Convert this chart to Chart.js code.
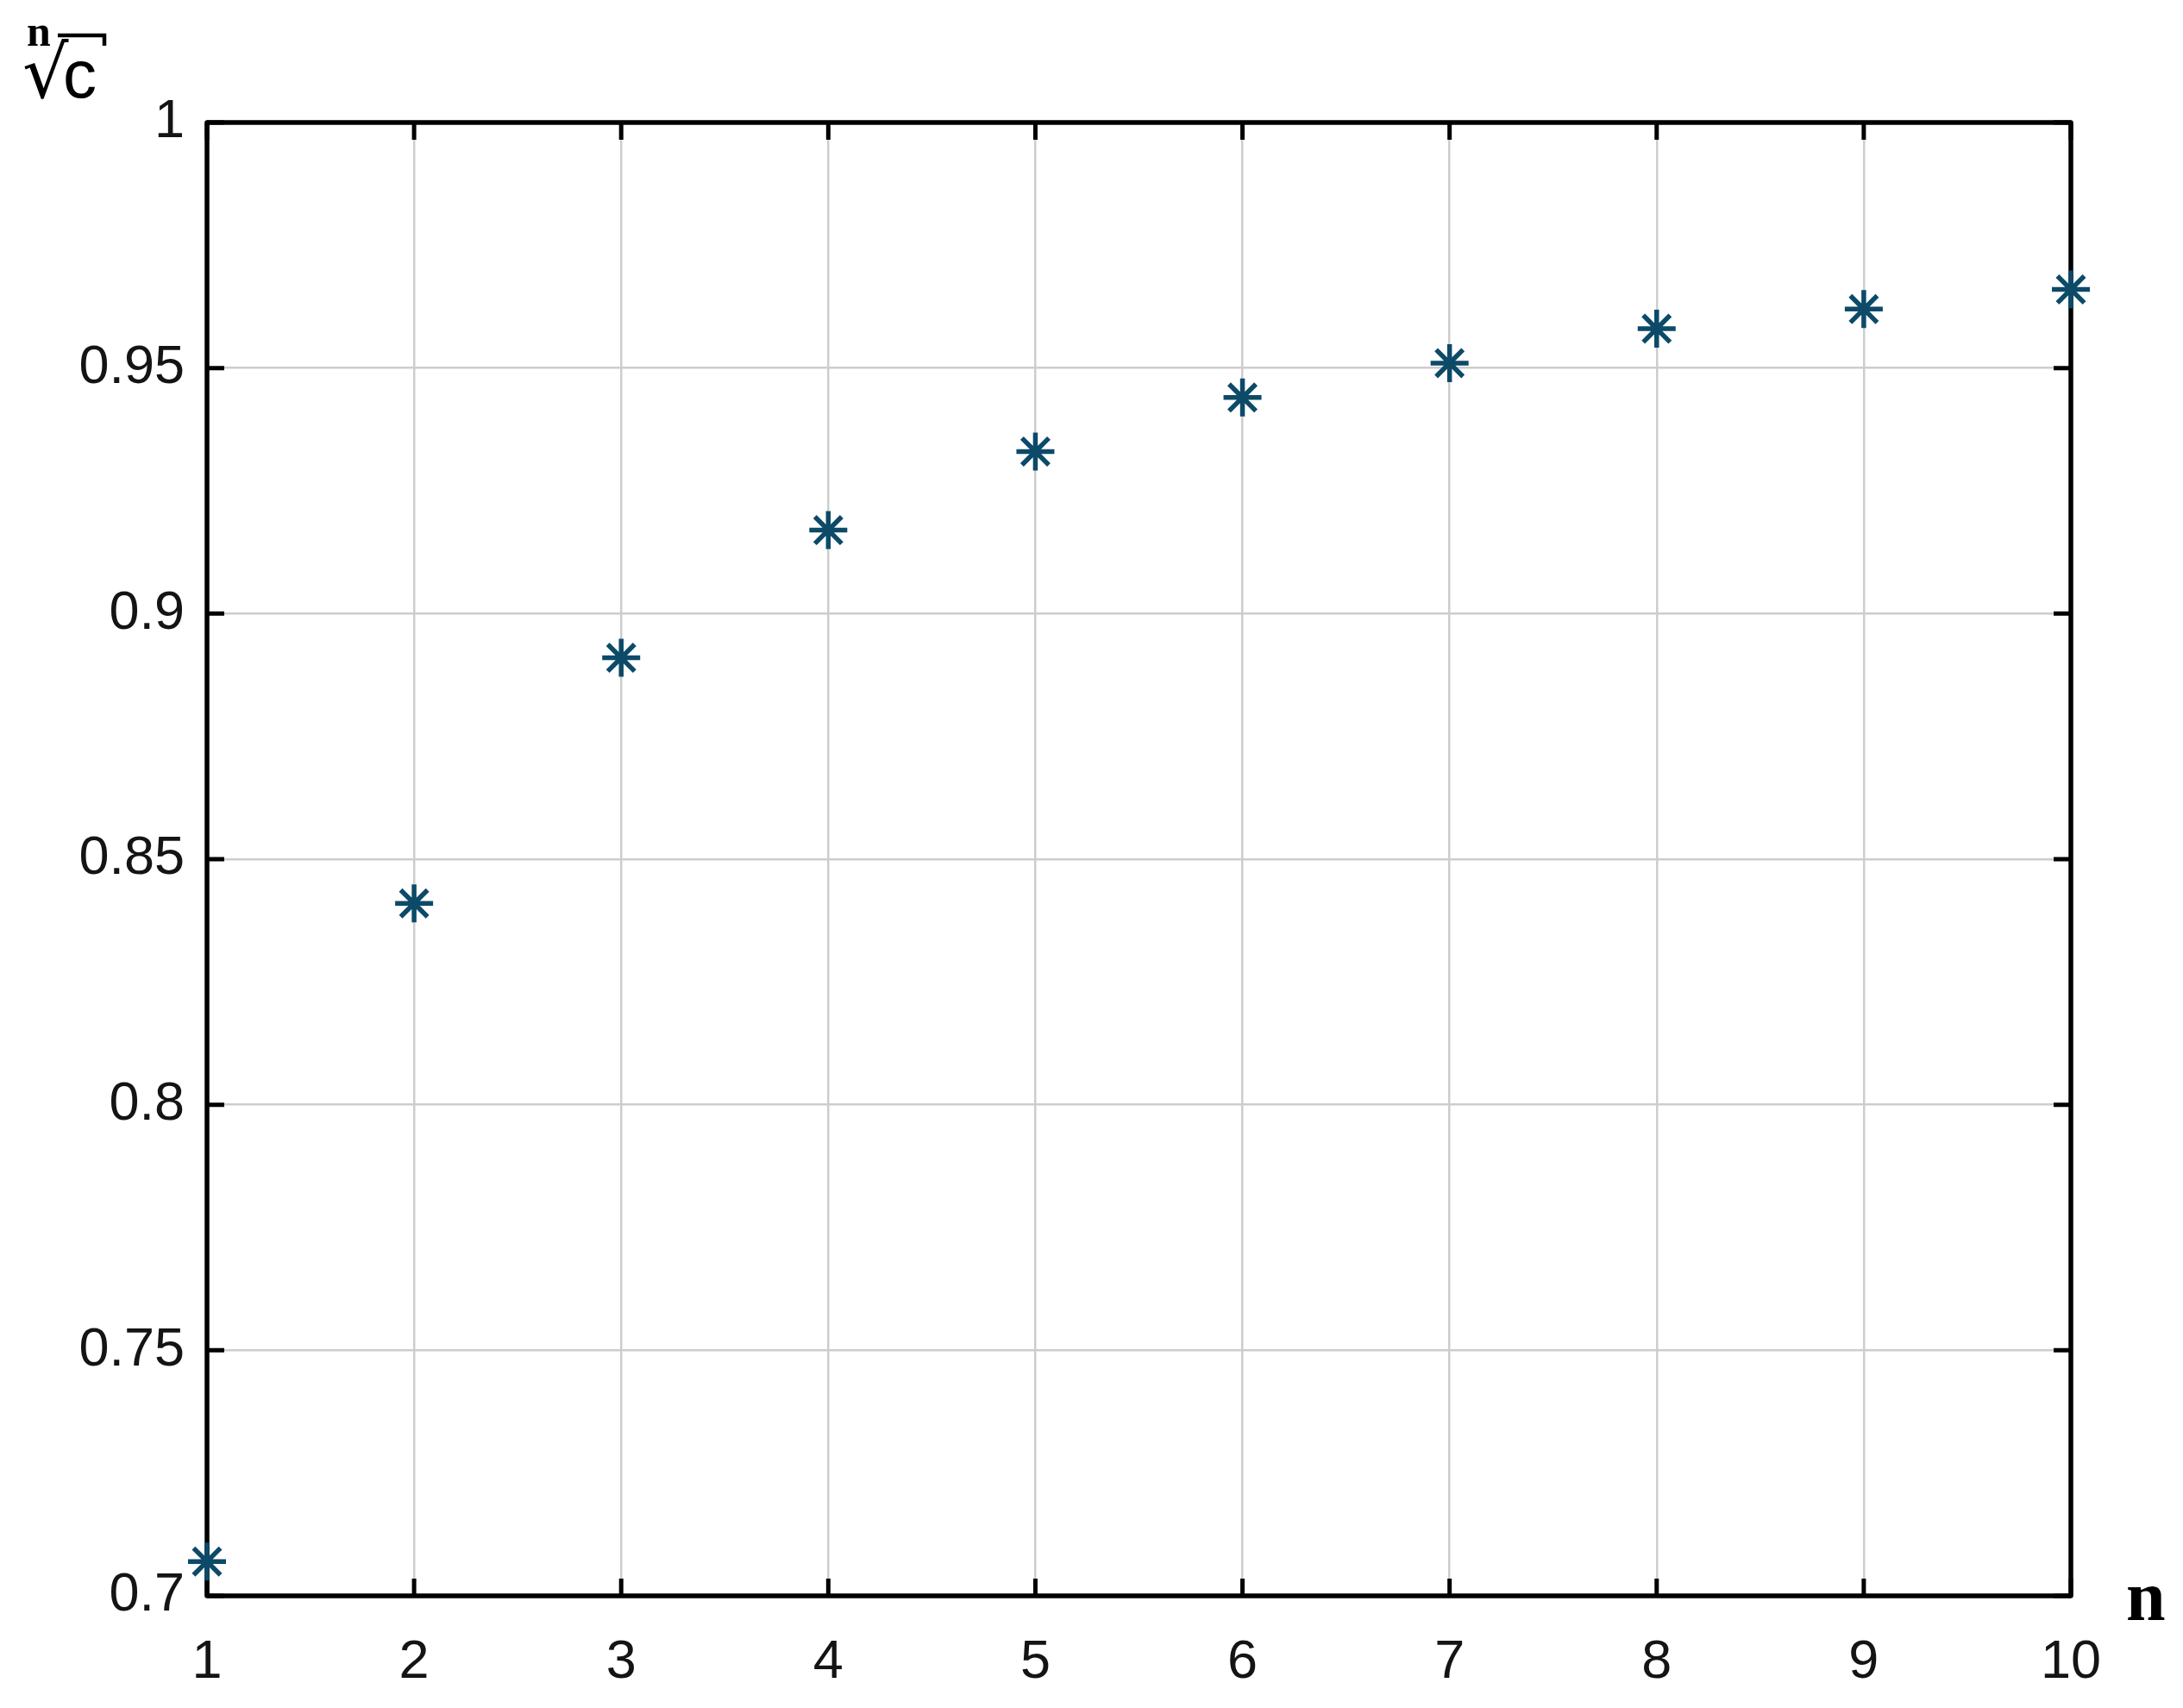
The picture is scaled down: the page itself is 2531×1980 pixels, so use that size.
<!DOCTYPE html>
<html>
<head>
<meta charset="utf-8">
<script src="https://cdn.jsdelivr.net/npm/chart.js@4/dist/chart.umd.min.js"></script>
<style>
  html, body { margin: 0; padding: 0; background: #ffffff; }
  #wrap { width: 2531px; height: 1980px; position: relative; }
  canvas { display: block; }
</style>
</head>
<body>
<div id="wrap"><canvas id="c" width="2531" height="1980"></canvas></div>
<script>
// ---- data ----
const nValues = [1, 2, 3, 4, 5, 6, 7, 8, 9, 10];
const rootValues = [0.707, 0.841, 0.891, 0.917, 0.933, 0.944, 0.951, 0.958, 0.962, 0.966];
const xTickValues = [1, 2, 3, 4, 5, 6, 7, 8, 9, 10];
const xTickLabels = ['1', '2', '3', '4', '5', '6', '7', '8', '9', '10'];
const yTickValues = [0.7, 0.75, 0.8, 0.85, 0.9, 0.95, 1];
const yTickLabels = ['0.7', '0.75', '0.8', '0.85', '0.9', '0.95', '1'];
const xAxisLabel = 'n';
const yAxisLabelIndex = 'n';
const yAxisLabelRadical = '\u221A';
const yAxisLabelBase = 'c';

const points = nValues.map((n, i) => ({ x: n, y: rootValues[i] }));

const TICK_FONT = { family: '"Liberation Sans", Arial, sans-serif', size: 63 };

const framePlugin = {
  id: 'matlabFrame',
  beforeDatasetsDraw(chart) {
    const { ctx, chartArea: a, scales } = chart;
    ctx.save();
    ctx.strokeStyle = '#000000';
    ctx.lineWidth = 5;
    ctx.lineCap = 'butt';
    // inward ticks
    const tl = 20;
    xTickValues.forEach(v => {
      const px = scales.x.getPixelForValue(v);
      ctx.beginPath();
      ctx.moveTo(px, a.bottom); ctx.lineTo(px, a.bottom - tl);
      ctx.moveTo(px, a.top); ctx.lineTo(px, a.top + tl);
      ctx.stroke();
    });
    yTickValues.forEach(v => {
      const py = scales.y.getPixelForValue(v);
      ctx.beginPath();
      ctx.moveTo(a.left, py); ctx.lineTo(a.left + tl, py);
      ctx.moveTo(a.right, py); ctx.lineTo(a.right - tl, py);
      ctx.stroke();
    });
    // frame
    ctx.lineWidth = 5.5;
    ctx.lineJoin = 'round';
    ctx.strokeRect(a.left, a.top, a.right - a.left, a.bottom - a.top);
    ctx.restore();
  },
  afterDraw(chart) {
    const { ctx } = chart;
    ctx.save();
    ctx.fillStyle = '#000000';
    ctx.textBaseline = 'alphabetic';
    ctx.textAlign = 'left';
    // x axis label
    ctx.font = 'bold 82px "Liberation Serif", "Times New Roman", serif';
    ctx.fillText(xAxisLabel, 2465, 1878);
    // y axis label: n-th root of c
    ctx.font = 'bold 50px "Liberation Serif", "Times New Roman", serif';
    ctx.fillText(yAxisLabelIndex, 31, 53);
    ctx.font = '84px "DejaVu Sans", sans-serif';
    ctx.fillText(yAxisLabelRadical, 26, 113);
    ctx.font = '78px "Liberation Sans", Arial, sans-serif';
    ctx.fillText(yAxisLabelBase, 73, 113);
    // overline of the radical
    ctx.strokeStyle = '#000000';
    ctx.lineWidth = 4.5;
    ctx.beginPath();
    ctx.moveTo(67, 41); ctx.lineTo(121, 41); ctx.lineTo(121, 53);
    ctx.stroke();
    ctx.restore();
  }
};

new Chart(document.getElementById('c'), {
  type: 'scatter',
  data: {
    datasets: [{
      data: points,
      pointStyle: 'star',
      pointRadius: 22,
      pointHoverRadius: 22,
      pointBorderWidth: 5.5,
      pointHoverBorderWidth: 5.5,
      borderColor: '#0c4a68',
      backgroundColor: '#0c4a68',
      showLine: false,
      clip: false
    }]
  },
  options: {
    responsive: false,
    animation: false,
    events: [],
    devicePixelRatio: 1,
    layout: { padding: { left: 0, top: 142, right: 130, bottom: 0 } },
    plugins: {
      legend: { display: false },
      tooltip: { enabled: false },
      title: { display: false }
    },
    scales: {
      x: {
        type: 'linear',
        min: 1, max: 10,
        afterFit(s) { s.height = 130; },
        afterBuildTicks(s) { s.ticks = xTickValues.map(v => ({ value: v })); },
        ticks: {
          font: TICK_FONT,
          color: '#141414',
          padding: 40,
          maxRotation: 0,
          autoSkip: false,
          callback: (v) => { const i = xTickValues.indexOf(v); return i >= 0 ? xTickLabels[i] : ''; }
        },
        grid: { color: '#cdcdcd', lineWidth: 2.5, drawTicks: false },
        border: { display: false }
      },
      y: {
        type: 'linear',
        min: 0.7, max: 1.0,
        afterFit(s) { s.width = 240; },
        afterBuildTicks(s) { s.ticks = yTickValues.map(v => ({ value: v })); },
        ticks: {
          font: TICK_FONT,
          color: '#141414',
          padding: 26,
          autoSkip: false,
          callback: (v) => {
            let i = yTickValues.findIndex(t => Math.abs(t - v) < 1e-9);
            return i >= 0 ? yTickLabels[i] : '';
          }
        },
        grid: { color: '#cdcdcd', lineWidth: 2.5, drawTicks: false },
        border: { display: false }
      }
    }
  },
  plugins: [framePlugin, {
    id: 'whiteBg',
    beforeDraw(chart) {
      const { ctx } = chart;
      ctx.save();
      ctx.fillStyle = '#ffffff';
      ctx.fillRect(0, 0, chart.width, chart.height);
      ctx.restore();
    }
  }]
});
</script>
</body>
</html>
